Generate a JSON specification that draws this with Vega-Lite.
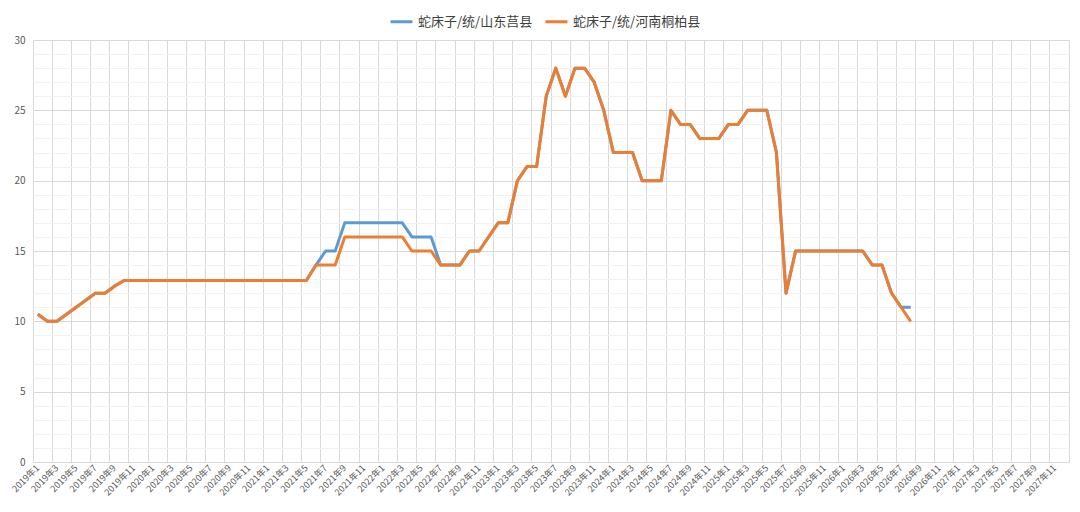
{
  "$schema": "https://vega.github.io/schema/vega-lite/v6.json",
  "width": 1036,
  "height": 422,
  "autosize": {"type": "none"},
  "padding": {"left": 33, "top": 40, "right": 11, "bottom": 50},
  "background": "white",
  "config": {
    "font": "Noto Sans CJK SC",
    "view": {"stroke": "#D9D9D9", "strokeWidth": 1},
    "axis": {"labelColor": "#595959", "domain": false, "ticks": false, "title": null}
  },
  "data": {
    "values": [
      {"月份": "2019年1", "山东莒县": 10.5, "河南桐柏县": 10.5},
      {"月份": "2019年2", "山东莒县": 10, "河南桐柏县": 10},
      {"月份": "2019年3", "山东莒县": 10, "河南桐柏县": 10},
      {"月份": "2019年4", "山东莒县": 10.5, "河南桐柏县": 10.5},
      {"月份": "2019年5", "山东莒县": 11, "河南桐柏县": 11},
      {"月份": "2019年6", "山东莒县": 11.5, "河南桐柏县": 11.5},
      {"月份": "2019年7", "山东莒县": 12, "河南桐柏县": 12},
      {"月份": "2019年8", "山东莒县": 12, "河南桐柏县": 12},
      {"月份": "2019年9", "山东莒县": 12.5, "河南桐柏县": 12.5},
      {"月份": "2019年10", "山东莒县": 12.9, "河南桐柏县": 12.9},
      {"月份": "2019年11", "山东莒县": 12.9, "河南桐柏县": 12.9},
      {"月份": "2019年12", "山东莒县": 12.9, "河南桐柏县": 12.9},
      {"月份": "2020年1", "山东莒县": 12.9, "河南桐柏县": 12.9},
      {"月份": "2020年2", "山东莒县": 12.9, "河南桐柏县": 12.9},
      {"月份": "2020年3", "山东莒县": 12.9, "河南桐柏县": 12.9},
      {"月份": "2020年4", "山东莒县": 12.9, "河南桐柏县": 12.9},
      {"月份": "2020年5", "山东莒县": 12.9, "河南桐柏县": 12.9},
      {"月份": "2020年6", "山东莒县": 12.9, "河南桐柏县": 12.9},
      {"月份": "2020年7", "山东莒县": 12.9, "河南桐柏县": 12.9},
      {"月份": "2020年8", "山东莒县": 12.9, "河南桐柏县": 12.9},
      {"月份": "2020年9", "山东莒县": 12.9, "河南桐柏县": 12.9},
      {"月份": "2020年10", "山东莒县": 12.9, "河南桐柏县": 12.9},
      {"月份": "2020年11", "山东莒县": 12.9, "河南桐柏县": 12.9},
      {"月份": "2020年12", "山东莒县": 12.9, "河南桐柏县": 12.9},
      {"月份": "2021年1", "山东莒县": 12.9, "河南桐柏县": 12.9},
      {"月份": "2021年2", "山东莒县": 12.9, "河南桐柏县": 12.9},
      {"月份": "2021年3", "山东莒县": 12.9, "河南桐柏县": 12.9},
      {"月份": "2021年4", "山东莒县": 12.9, "河南桐柏县": 12.9},
      {"月份": "2021年5", "山东莒县": 12.9, "河南桐柏县": 12.9},
      {"月份": "2021年6", "山东莒县": 14, "河南桐柏县": 14},
      {"月份": "2021年7", "山东莒县": 15, "河南桐柏县": 14},
      {"月份": "2021年8", "山东莒县": 15, "河南桐柏县": 14},
      {"月份": "2021年9", "山东莒县": 17, "河南桐柏县": 16},
      {"月份": "2021年10", "山东莒县": 17, "河南桐柏县": 16},
      {"月份": "2021年11", "山东莒县": 17, "河南桐柏县": 16},
      {"月份": "2021年12", "山东莒县": 17, "河南桐柏县": 16},
      {"月份": "2022年1", "山东莒县": 17, "河南桐柏县": 16},
      {"月份": "2022年2", "山东莒县": 17, "河南桐柏县": 16},
      {"月份": "2022年3", "山东莒县": 17, "河南桐柏县": 16},
      {"月份": "2022年4", "山东莒县": 16, "河南桐柏县": 15},
      {"月份": "2022年5", "山东莒县": 16, "河南桐柏县": 15},
      {"月份": "2022年6", "山东莒县": 16, "河南桐柏县": 15},
      {"月份": "2022年7", "山东莒县": 14, "河南桐柏县": 14},
      {"月份": "2022年8", "山东莒县": 14, "河南桐柏县": 14},
      {"月份": "2022年9", "山东莒县": 14, "河南桐柏县": 14},
      {"月份": "2022年10", "山东莒县": 15, "河南桐柏县": 15},
      {"月份": "2022年11", "山东莒县": 15, "河南桐柏县": 15},
      {"月份": "2022年12", "山东莒县": 16, "河南桐柏县": 16},
      {"月份": "2023年1", "山东莒县": 17, "河南桐柏县": 17},
      {"月份": "2023年2", "山东莒县": 17, "河南桐柏县": 17},
      {"月份": "2023年3", "山东莒县": 20, "河南桐柏县": 20},
      {"月份": "2023年4", "山东莒县": 21, "河南桐柏县": 21},
      {"月份": "2023年5", "山东莒县": 21, "河南桐柏县": 21},
      {"月份": "2023年6", "山东莒县": 26, "河南桐柏县": 26},
      {"月份": "2023年7", "山东莒县": 28, "河南桐柏县": 28},
      {"月份": "2023年8", "山东莒县": 26, "河南桐柏县": 26},
      {"月份": "2023年9", "山东莒县": 28, "河南桐柏县": 28},
      {"月份": "2023年10", "山东莒县": 28, "河南桐柏县": 28},
      {"月份": "2023年11", "山东莒县": 27, "河南桐柏县": 27},
      {"月份": "2023年12", "山东莒县": 25, "河南桐柏县": 25},
      {"月份": "2024年1", "山东莒县": 22, "河南桐柏县": 22},
      {"月份": "2024年2", "山东莒县": 22, "河南桐柏县": 22},
      {"月份": "2024年3", "山东莒县": 22, "河南桐柏县": 22},
      {"月份": "2024年4", "山东莒县": 20, "河南桐柏县": 20},
      {"月份": "2024年5", "山东莒县": 20, "河南桐柏县": 20},
      {"月份": "2024年6", "山东莒县": 20, "河南桐柏县": 20},
      {"月份": "2024年7", "山东莒县": 25, "河南桐柏县": 25},
      {"月份": "2024年8", "山东莒县": 24, "河南桐柏县": 24},
      {"月份": "2024年9", "山东莒县": 24, "河南桐柏县": 24},
      {"月份": "2024年10", "山东莒县": 23, "河南桐柏县": 23},
      {"月份": "2024年11", "山东莒县": 23, "河南桐柏县": 23},
      {"月份": "2024年12", "山东莒县": 23, "河南桐柏县": 23},
      {"月份": "2025年1", "山东莒县": 24, "河南桐柏县": 24},
      {"月份": "2025年2", "山东莒县": 24, "河南桐柏县": 24},
      {"月份": "2025年3", "山东莒县": 25, "河南桐柏县": 25},
      {"月份": "2025年4", "山东莒县": 25, "河南桐柏县": 25},
      {"月份": "2025年5", "山东莒县": 25, "河南桐柏县": 25},
      {"月份": "2025年6", "山东莒县": 22, "河南桐柏县": 22},
      {"月份": "2025年7", "山东莒县": 12, "河南桐柏县": 12},
      {"月份": "2025年8", "山东莒县": 15, "河南桐柏县": 15},
      {"月份": "2025年9", "山东莒县": 15, "河南桐柏县": 15},
      {"月份": "2025年10", "山东莒县": 15, "河南桐柏县": 15},
      {"月份": "2025年11", "山东莒县": 15, "河南桐柏县": 15},
      {"月份": "2025年12", "山东莒县": 15, "河南桐柏县": 15},
      {"月份": "2026年1", "山东莒县": 15, "河南桐柏县": 15},
      {"月份": "2026年2", "山东莒县": 15, "河南桐柏县": 15},
      {"月份": "2026年3", "山东莒县": 15, "河南桐柏县": 15},
      {"月份": "2026年4", "山东莒县": 14, "河南桐柏县": 14},
      {"月份": "2026年5", "山东莒县": 14, "河南桐柏县": 14},
      {"月份": "2026年6", "山东莒县": 12, "河南桐柏县": 12},
      {"月份": "2026年7", "山东莒县": 11, "河南桐柏县": 11},
      {"月份": "2026年8", "山东莒县": 11, "河南桐柏县": 10}
    ]
  },
  "resolve": {"axis": {"x": "independent", "y": "independent"}},
  "layer": [
    {
      "mark": {"type": "line", "color": "#5B9BD5", "strokeWidth": 3, "strokeJoin": "round"},
      "encoding": {
        "x": {
          "field": "月份",
          "type": "ordinal",
          "bandPosition": 0.5,
          "scale": {
            "type": "band",
            "paddingInner": 0,
            "paddingOuter": 0,
            "domain": ["2019年1","2019年2","2019年3","2019年4","2019年5","2019年6","2019年7","2019年8","2019年9","2019年10","2019年11","2019年12",
                       "2020年1","2020年2","2020年3","2020年4","2020年5","2020年6","2020年7","2020年8","2020年9","2020年10","2020年11","2020年12",
                       "2021年1","2021年2","2021年3","2021年4","2021年5","2021年6","2021年7","2021年8","2021年9","2021年10","2021年11","2021年12",
                       "2022年1","2022年2","2022年3","2022年4","2022年5","2022年6","2022年7","2022年8","2022年9","2022年10","2022年11","2022年12",
                       "2023年1","2023年2","2023年3","2023年4","2023年5","2023年6","2023年7","2023年8","2023年9","2023年10","2023年11","2023年12",
                       "2024年1","2024年2","2024年3","2024年4","2024年5","2024年6","2024年7","2024年8","2024年9","2024年10","2024年11","2024年12",
                       "2025年1","2025年2","2025年3","2025年4","2025年5","2025年6","2025年7","2025年8","2025年9","2025年10","2025年11","2025年12",
                       "2026年1","2026年2","2026年3","2026年4","2026年5","2026年6","2026年7","2026年8","2026年9","2026年10","2026年11","2026年12",
                       "2027年1","2027年2","2027年3","2027年4","2027年5","2027年6","2027年7","2027年8","2027年9","2027年10","2027年11","2027年12"]
          },
          "axis": {
            "orient": "top",
            "labels": false,
            "grid": true,
            "gridColor": "#D9D9D9",
            "bandPosition": 0,
            "values": ["2019年1","2019年3","2019年5","2019年7","2019年9","2019年11","2020年1","2020年3","2020年5","2020年7","2020年9","2020年11",
                       "2021年1","2021年3","2021年5","2021年7","2021年9","2021年11","2022年1","2022年3","2022年5","2022年7","2022年9","2022年11",
                       "2023年1","2023年3","2023年5","2023年7","2023年9","2023年11","2024年1","2024年3","2024年5","2024年7","2024年9","2024年11",
                       "2025年1","2025年3","2025年5","2025年7","2025年9","2025年11","2026年1","2026年3","2026年5","2026年7","2026年9","2026年11",
                       "2027年1","2027年3","2027年5","2027年7","2027年9","2027年11"]
          }
        },
        "y": {
          "field": "山东莒县",
          "type": "quantitative",
          "scale": {"domain": [0, 30], "nice": false},
          "axis": {
            "orient": "right",
            "labels": false,
            "grid": true,
            "gridColor": "#F2F2F2",
            "values": [0,1,2,3,4,5,6,7,8,9,10,11,12,13,14,15,16,17,18,19,20,21,22,23,24,25,26,27,28,29,30]
          }
        },
        "color": {
          "datum": "蛇床子/统/山东莒县",
          "type": "nominal",
          "scale": {"domain": ["蛇床子/统/山东莒县", "蛇床子/统/河南桐柏县"], "range": ["#5B9BD5", "#ED7D31"]},
          "legend": {
            "title": null,
            "orient": "none",
            "legendX": 356,
            "legendY": -31,
            "direction": "horizontal",
            "symbolType": "stroke",
            "symbolStrokeWidth": 3,
            "symbolSize": 480,
            "labelFontSize": 13,
            "labelColor": "#404040",
            "columnPadding": 6
          }
        }
      }
    },
    {
      "mark": {"type": "line", "color": "#ED7D31", "strokeWidth": 3, "strokeJoin": "round"},
      "encoding": {
        "x": {
          "field": "月份",
          "type": "ordinal",
          "bandPosition": 0.5,
          "axis": {
            "orient": "bottom",
            "grid": false,
            "bandPosition": 0.5,
            "labelAngle": -45,
            "labelAlign": "right",
            "labelBaseline": "middle",
            "labelFontSize": 9,
            "labelPadding": 4,
            "values": ["2019年1","2019年3","2019年5","2019年7","2019年9","2019年11","2020年1","2020年3","2020年5","2020年7","2020年9","2020年11",
                       "2021年1","2021年3","2021年5","2021年7","2021年9","2021年11","2022年1","2022年3","2022年5","2022年7","2022年9","2022年11",
                       "2023年1","2023年3","2023年5","2023年7","2023年9","2023年11","2024年1","2024年3","2024年5","2024年7","2024年9","2024年11",
                       "2025年1","2025年3","2025年5","2025年7","2025年9","2025年11","2026年1","2026年3","2026年5","2026年7","2026年9","2026年11",
                       "2027年1","2027年3","2027年5","2027年7","2027年9","2027年11"]
          }
        },
        "y": {
          "field": "河南桐柏县",
          "type": "quantitative",
          "axis": {
            "orient": "left",
            "grid": true,
            "gridColor": "#D9D9D9",
            "values": [0, 5, 10, 15, 20, 25, 30],
            "labelFontSize": 10,
            "labelPadding": 8
          }
        },
        "color": {"datum": "蛇床子/统/河南桐柏县", "type": "nominal"}
      }
    }
  ]
}
